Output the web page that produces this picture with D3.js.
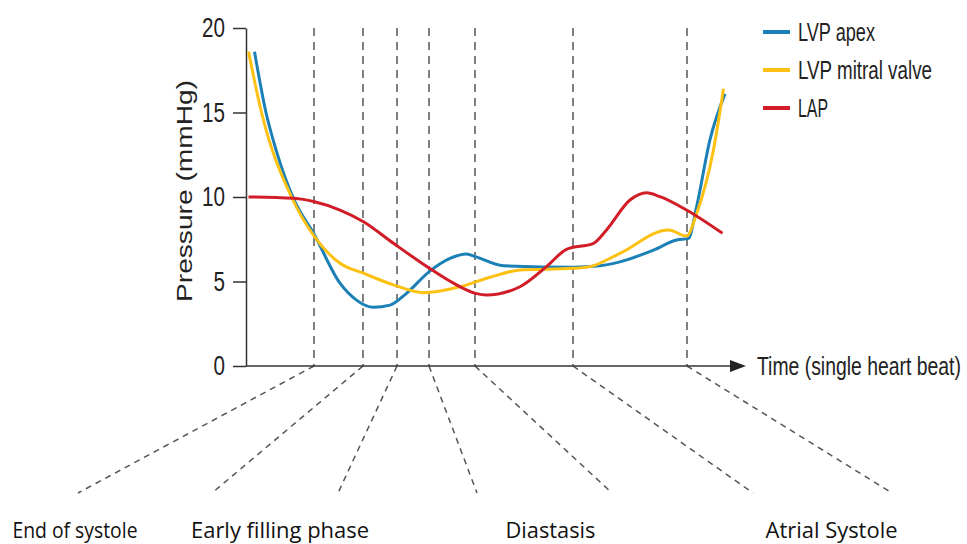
<!DOCTYPE html>
<html>
<head>
<meta charset="utf-8">
<script src="https://cdn.jsdelivr.net/npm/d3@7"></script>
<style>
  body { margin: 0; background: #fff; }
  svg { display: block; }
</style>
</head>
<body>
<svg width="967" height="544"></svg>
<script>
// time is in arbitrary units across one beat (0..100), pressure in mmHg
let lvpApex = [
    [1.7, 18.6], [4, 15], [6.1, 12.7], [9.5, 9.9], [13.7, 7.75], [18.8, 4.9],
    [22.1, 3.9], [25.5, 3.47], [28.8, 3.6], [32.1, 4.3], [36.7, 5.6], [40.8, 6.37],
    [44.1, 6.63], [45.9, 6.47], [51.5, 5.93], [65.4, 5.85], [70.8, 5.93],
    [81.5, 6.86], [86.1, 7.46], [88.5, 7.55], [90.1, 9.4], [92.8, 13.4], [95.8, 16.1]
];
let lvpMitral = [
    [0.5, 18.6], [3.1, 15], [9.1, 10], [13.7, 7.65], [18.8, 6.08], [23.5, 5.49],
    [29.5, 4.8], [35.5, 4.34], [42.8, 4.69], [48.8, 5.25], [54.8, 5.68],
    [65.4, 5.78], [68.8, 5.88], [74.8, 6.67], [84.5, 8.05], [88.1, 7.69],
    [90.1, 9.0], [93.5, 12.8], [95.5, 16.4]
];
let lap = [
    [0.5, 10.0], [9.5, 9.92], [13.7, 9.72], [18.8, 9.23], [23.5, 8.54], [29.5, 7.26],
    [36.7, 5.78], [41.5, 4.9], [45.9, 4.3], [48.1, 4.2], [54.8, 4.69], [60.1, 5.88],
    [64.1, 6.9], [69.5, 7.26], [72.1, 8.05], [76.8, 9.82], [80.1, 10.25],
    [82.8, 10.02], [88.1, 9.23], [95.3, 7.85]
];
let series = [
    { name: "LVP apex", color: "#1a80b6", values: lvpApex },
    { name: "LVP mitral valve", color: "#fdc114", values: lvpMitral },
    { name: "LAP", color: "#d11d27", values: lap }
];
let phaseMarks = [13.6, 23.4, 30.2, 36.6, 45.8, 65.4, 88.2];
let phases = [
    { label: "End of systole", from: 0, to: 0 },
    { label: "Early filling phase", from: 1, to: 2 },
    { label: "Diastasis", from: 3, to: 4 },
    { label: "Atrial Systole", from: 5, to: 6 }
];
let yTicks = [0, 5, 10, 15, 20];

let svg = d3.select('svg');
let narrow = '"Liberation Sans Narrow", "Arial Narrow", "Liberation Sans", sans-serif';

let x = d3.scaleLinear().domain([0, 100]).range([246, 746]);
let y = d3.scaleLinear().domain([0, 20]).range([366, 28]);
// where the fan lines end below the chart
let fanEnds = [78, 212, 338, 477, 612, 753, 892];

// squeeze text horizontally to a given width (the original uses a condensed face)
function squeeze(sel, widthOf) {
    sel.each(function(d, i) {
        let w = this.getComputedTextLength();
        let s = widthOf(d, i) / w;
        let tx = +this.getAttribute('x') || 0, ty = +this.getAttribute('y') || 0;
        d3.select(this)
            .attr('x', 0).attr('y', 0)
            .attr('transform', `translate(${tx},${ty}) scale(${s},1)`);
    });
}

// dashed phase boundaries
svg.append('g').selectAll('line')
    .data(phaseMarks)
    .enter()
    .append('line')
    .attr('x1', d => x(d)).attr('x2', d => x(d))
    .attr('y1', y(20)).attr('y2', y(0))
    .attr('stroke', '#555')
    .attr('stroke-width', 1.5)
    .attr('stroke-dasharray', '8,6');

svg.append('g').selectAll('line')
    .data(phaseMarks)
    .enter()
    .append('line')
    .attr('x1', d => x(d)).attr('y1', y(0))
    .attr('x2', (d, i) => fanEnds[i]).attr('y2', 493)
    .attr('stroke', '#555')
    .attr('stroke-width', 1.5)
    .attr('stroke-dasharray', '6,5');

// y axis
let yAxis = svg.append('g')
    .attr('transform', `translate(${x(0)},0)`)
    .call(d3.axisLeft(y).tickValues(yTicks).tickSize(13).tickSizeOuter(0).tickPadding(8));
yAxis.selectAll('path, line').attr('stroke', '#333').attr('stroke-width', 1.5);
yAxis.selectAll('text')
    .attr('font-family', narrow)
    .attr('font-size', 27)
    .attr('fill', '#222')
    .call(squeeze, d => String(d).length * 11.5);

// x axis with arrow
svg.append('line')
    .attr('x1', x(0)).attr('x2', 732)
    .attr('y1', y(0)).attr('y2', y(0))
    .attr('stroke', '#333')
    .attr('stroke-width', 1.5);
svg.append('path')
    .attr('d', `M730,${y(0) - 6}L746,${y(0)}L730,${y(0) + 6}Z`)
    .attr('fill', '#222');

svg.append('text')
    .attr('x', 757).attr('y', 375)
    .attr('font-family', narrow)
    .attr('font-size', 26)
    .attr('fill', '#222')
    .text('Time (single heart beat)')
    .call(squeeze, () => 204);

svg.append('text')
    .attr('transform', 'translate(192,191) rotate(-90)')
    .attr('text-anchor', 'middle')
    .attr('font-family', '"Liberation Sans", Arial, sans-serif')
    .attr('font-size', 22)
    .attr('textLength', 222)
    .attr('lengthAdjust', 'spacingAndGlyphs')
    .attr('fill', '#222')
    .text('Pressure (mmHg)');

// curves
let line = d3.line()
    .x(d => x(d[0]))
    .y(d => y(d[1]))
    .curve(d3.curveMonotoneX);

svg.append('g').selectAll('path')
    .data(series)
    .enter()
    .append('path')
    .attr('d', d => line(d.values))
    .attr('fill', 'none')
    .attr('stroke', d => d.color)
    .attr('stroke-width', 3);

// legend
let legendWidths = [77, 134, 30];
let legend = svg.append('g').selectAll('g')
    .data(series)
    .enter()
    .append('g')
    .attr('transform', (d, i) => `translate(763,${32 + i * 38})`);
legend.append('line')
    .attr('x1', 0).attr('x2', 27)
    .attr('stroke', d => d.color)
    .attr('stroke-width', 4);
legend.append('text')
    .attr('x', 35).attr('y', 9)
    .attr('font-family', narrow)
    .attr('font-size', 25)
    .attr('fill', '#222')
    .text(d => d.name)
    .call(squeeze, (d, i) => legendWidths[i]);

// phase labels
let labelWidths = [125, 178, 90, 132];
let labelShift = [-3, 5, 6, 9];
svg.append('g').selectAll('text')
    .data(phases)
    .enter()
    .append('text')
    .attr('x', (d, i) => (fanEnds[d.from] + fanEnds[d.to]) / 2 + labelShift[i])
    .attr('y', 538)
    .attr('text-anchor', 'middle')
    .attr('font-family', '"Open Sans", sans-serif')
    .attr('font-size', 21)
    .attr('textLength', (d, i) => labelWidths[i])
    .attr('lengthAdjust', 'spacingAndGlyphs')
    .attr('fill', '#111')
    .text(d => d.label);
</script>
</body>
</html>
